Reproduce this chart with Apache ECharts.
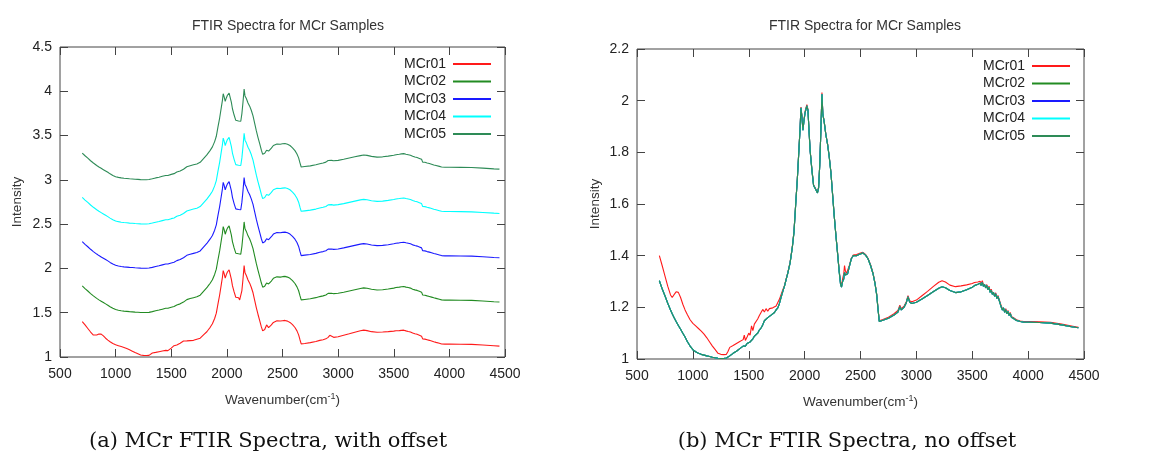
<!DOCTYPE html>
<html>
<head>
<meta charset="utf-8">
<script src="https://cdn.jsdelivr.net/npm/echarts@6/dist/echarts.min.js"></script>
<style>
html,body{margin:0;padding:0;background:#fff;}
#chart{width:1158px;height:453px;}
</style>
</head>
<body>
<div id="chart"></div>
<script>
// ---- data ----
const seriesNames = ['MCr01', 'MCr02', 'MCr03', 'MCr04', 'MCr05'];
const offsets = [0, 0.5, 1.0, 1.5, 2.0];
const xTicks = [500, 1000, 1500, 2000, 2500, 3000, 3500, 4000, 4500];
const yTicksOffset = [1, 1.5, 2, 2.5, 3, 3.5, 4, 4.5];
const yTicksRaw = [1, 1.2, 1.4, 1.6, 1.8, 2, 2.2];

const wavenumber = [700,725,750,775,800,815,830,850,870,890,910,930,950,975,1000,1025,1050,1075,1100,1125,1150,1175,1200,1225,1250,1275,1300,1315,1330,1345,1360,1375,1390,1405,1420,1435,1450,1460,1470,1485,1500,1512,1525,1537,1550,1565,1580,1595,1610,1625,1640,1655,1670,1685,1700,1715,1730,1745,1760,1775,1790,1805,1820,1835,1850,1870,1890,1905,1920,1935,1950,1960,1967,1975,1985,1995,2005,2020,2030,2040,2050,2065,2080,2095,2105,2115,2125,2135,2145,2155,2163,2175,2190,2205,2220,2235,2250,2265,2280,2295,2310,2322,2330,2340,2350,2357,2365,2375,2385,2400,2418,2435,2450,2465,2480,2500,2522,2545,2567,2590,2612,2630,2645,2657,2668,2700,2750,2800,2835,2852,2865,2890,2910,2925,2940,2960,3000,3050,3100,3150,3200,3230,3260,3300,3350,3400,3450,3500,3520,3535,3550,3560,3570,3580,3590,3600,3610,3620,3630,3640,3650,3660,3670,3680,3690,3700,3710,3720,3730,3740,3750,3760,3770,3780,3790,3800,3810,3820,3830,3840,3850,3860,3870,3880,3895,3910,3930,3960,4000,4100,4200,4300,4400,4450];

const mcr01 = [1.400,1.362,1.322,1.282,1.248,1.238,1.248,1.260,1.258,1.238,1.212,1.190,1.172,1.152,1.138,1.128,1.118,1.108,1.096,1.082,1.066,1.050,1.036,1.022,1.018,1.017,1.018,1.030,1.045,1.043,1.052,1.050,1.060,1.058,1.068,1.065,1.075,1.092,1.072,1.085,1.100,1.092,1.128,1.110,1.135,1.142,1.155,1.168,1.180,1.192,1.182,1.195,1.185,1.195,1.188,1.198,1.200,1.205,1.212,1.232,1.250,1.268,1.285,1.310,1.335,1.375,1.435,1.495,1.600,1.700,1.820,1.900,1.975,1.945,1.890,1.930,1.960,1.985,1.965,1.880,1.805,1.735,1.675,1.662,1.668,1.645,1.665,1.750,1.880,2.032,1.950,1.920,1.870,1.834,1.785,1.725,1.640,1.555,1.480,1.410,1.340,1.295,1.285,1.310,1.330,1.362,1.340,1.332,1.335,1.362,1.390,1.402,1.408,1.404,1.406,1.410,1.413,1.405,1.390,1.365,1.333,1.295,1.250,1.195,1.148,1.153,1.162,1.175,1.188,1.208,1.195,1.205,1.222,1.245,1.225,1.222,1.228,1.245,1.262,1.280,1.297,1.303,1.298,1.286,1.280,1.283,1.287,1.292,1.296,1.290,1.298,1.292,1.301,1.293,1.303,1.288,1.295,1.280,1.288,1.272,1.282,1.262,1.270,1.255,1.262,1.248,1.256,1.238,1.246,1.232,1.235,1.205,1.195,1.202,1.185,1.195,1.178,1.188,1.172,1.180,1.165,1.172,1.160,1.165,1.152,1.155,1.147,1.145,1.145,1.144,1.142,1.135,1.127,1.123];

const mcr02 = [1.303,1.272,1.245,1.216,1.190,1.175,1.162,1.145,1.130,1.115,1.100,1.085,1.068,1.050,1.036,1.028,1.022,1.018,1.015,1.012,1.010,1.007,1.005,1.003,1.002,1.002,1.004,1.008,1.012,1.018,1.022,1.026,1.030,1.034,1.040,1.044,1.050,1.055,1.050,1.060,1.062,1.066,1.070,1.078,1.088,1.094,1.100,1.112,1.120,1.132,1.148,1.142,1.160,1.156,1.170,1.168,1.180,1.190,1.198,1.215,1.240,1.262,1.282,1.308,1.333,1.372,1.432,1.492,1.598,1.698,1.818,1.898,1.972,1.940,1.886,1.925,1.955,1.980,1.962,1.878,1.803,1.732,1.672,1.660,1.665,1.643,1.662,1.748,1.878,2.025,1.948,1.918,1.868,1.832,1.783,1.723,1.638,1.553,1.478,1.408,1.335,1.288,1.278,1.300,1.310,1.335,1.325,1.325,1.330,1.358,1.388,1.400,1.405,1.400,1.402,1.407,1.410,1.402,1.388,1.362,1.330,1.292,1.248,1.192,1.145,1.150,1.158,1.170,1.182,1.202,1.190,1.200,1.218,1.240,1.220,1.215,1.220,1.232,1.246,1.260,1.274,1.280,1.276,1.265,1.257,1.260,1.268,1.278,1.284,1.279,1.289,1.283,1.293,1.285,1.296,1.281,1.289,1.275,1.284,1.268,1.278,1.258,1.266,1.250,1.258,1.243,1.252,1.234,1.242,1.228,1.232,1.200,1.190,1.198,1.181,1.190,1.175,1.184,1.168,1.176,1.162,1.168,1.157,1.162,1.149,1.152,1.145,1.142,1.142,1.141,1.139,1.132,1.124,1.121];
// MCr03-MCr05 read as coincident with MCr02 in the no-offset panel
const mcr03 = mcr02;
const mcr04 = mcr02;
const mcr05 = mcr02;

const seriesValues = [mcr01, mcr02, mcr03, mcr04, mcr05];
const seriesColors = ['#ff1a1a', '#228b22', '#1a1aff', '#00ffff', '#2e8b57'];

// ---- chart ----
const FONT = 'Liberation Sans, Arial, sans-serif';
const tickColor = '#444';

function pairs(vals, off) {
  return wavenumber.map((w, i) => [w, +(vals[i] + off).toFixed(3)]);
}

function xAxes(gridIndex) {
  return [
    {
      gridIndex, type: 'value', position: 'bottom',
      min: xTicks[0], max: xTicks[xTicks.length - 1], interval: xTicks[1] - xTicks[0],
      axisLine: { show: false },
      axisTick: { show: true, inside: true, length: 8, lineStyle: { color: tickColor } },
      axisLabel: { show: true, margin: 10, color: '#222', fontSize: 14, fontFamily: FONT,
                   formatter: (v) => String(v) },
      splitLine: { show: false },
      name: 'Wavenumber(cm{sup|-1})', nameLocation: 'middle', nameGap: 35,
      nameTextStyle: { color: '#333', fontSize: 13.5, fontFamily: FONT,
        rich: { sup: { fontSize: 9, verticalAlign: 'top', padding: [0, 0, 8, 0], fontFamily: FONT, color: '#333' } } }
    },
    {
      gridIndex, type: 'value', position: 'top',
      min: xTicks[0], max: xTicks[xTicks.length - 1], interval: xTicks[1] - xTicks[0],
      axisLine: { show: false },
      axisTick: { show: true, inside: true, length: 8, lineStyle: { color: tickColor } },
      axisLabel: { show: false }, splitLine: { show: false }
    }
  ];
}

function yAxes(gridIndex, ticks, gap) {
  const min = ticks[0], max = ticks[ticks.length - 1];
  const interval = +(ticks[1] - ticks[0]).toFixed(3);
  return [
    {
      gridIndex, type: 'value', position: 'left', min, max, interval,
      axisLine: { show: false },
      axisTick: { show: true, inside: true, length: 8, lineStyle: { color: tickColor } },
      axisLabel: { show: true, margin: 8, color: '#222', fontSize: 14, fontFamily: FONT,
                   formatter: (v) => String(+v.toFixed(2)) },
      splitLine: { show: false },
      name: 'Intensity', nameLocation: 'middle', nameGap: gap,
      nameTextStyle: { color: '#333', fontSize: 13.5, fontFamily: FONT }
    },
    {
      gridIndex, type: 'value', position: 'right', min, max, interval,
      axisLine: { show: false },
      axisTick: { show: true, inside: true, length: 8, lineStyle: { color: tickColor } },
      axisLabel: { show: false }, splitLine: { show: false }
    }
  ];
}

const series = [];
seriesNames.forEach((name, i) => {
  series.push({
    name, type: 'line', xAxisIndex: 0, yAxisIndex: 0,
    data: pairs(seriesValues[i], offsets[i]),
    symbol: 'none', showSymbol: false, silent: true, animation: false,
    lineStyle: { width: 1.1, color: seriesColors[i] }, itemStyle: { color: seriesColors[i] }
  });
});
seriesNames.forEach((name, i) => {
  series.push({
    name, type: 'line', xAxisIndex: 2, yAxisIndex: 2,
    data: pairs(seriesValues[i], 0),
    symbol: 'none', showSymbol: false, silent: true, animation: false,
    lineStyle: { width: 1.1, color: seriesColors[i] }, itemStyle: { color: seriesColors[i] }
  });
});

function legend(right, top) {
  return {
    data: seriesNames, orient: 'vertical', right, top, align: 'right',
    itemWidth: 38, itemHeight: 14, itemGap: 3.5, padding: 0,
    selectedMode: false,
    textStyle: { color: '#222', fontSize: 14, fontFamily: FONT, padding: [0, 2, 0, 0] },
    icon: 'path://M0,0 L38,0 L38,2 L0,2 Z'
  };
}

const option = {
  animation: false,
  backgroundColor: '#fff',
  title: [
    { text: 'FTIR Spectra for MCr Samples', left: 283, top: 14, textAlign: 'center',
      textStyle: { fontSize: 14, fontWeight: 'normal', color: '#333', fontFamily: FONT } },
    { text: 'FTIR Spectra for MCr Samples', left: 860, top: 14, textAlign: 'center',
      textStyle: { fontSize: 14, fontWeight: 'normal', color: '#333', fontFamily: FONT } },
    { text: '(a) MCr FTIR Spectra, with offset', left: 263, top: 426, textAlign: 'center',
      textStyle: { fontSize: 21, fontWeight: 'normal', color: '#111', fontFamily: 'DejaVu Serif, serif' } },
    { text: '(b) MCr FTIR Spectra, no offset', left: 842, top: 426, textAlign: 'center',
      textStyle: { fontSize: 21, fontWeight: 'normal', color: '#111', fontFamily: 'DejaVu Serif, serif' } }
  ],
  legend: [legend(667, 57), legend(88, 59)],
  grid: [
    { left: 60, top: 47, width: 445, height: 310, show: true, borderColor: '#444', borderWidth: 1, backgroundColor: 'transparent', containLabel: false },
    { left: 637, top: 49, width: 447, height: 310, show: true, borderColor: '#444', borderWidth: 1, backgroundColor: 'transparent', containLabel: false }
  ],
  xAxis: [...xAxes(0), ...xAxes(1)],
  yAxis: [...yAxes(0, yTicksOffset, 35.5), ...yAxes(1, yTicksRaw, 35)],
  series
};

const chart = echarts.init(document.getElementById('chart'), null, { renderer: 'canvas' });
chart.setOption(option);
</script>
</body>
</html>
